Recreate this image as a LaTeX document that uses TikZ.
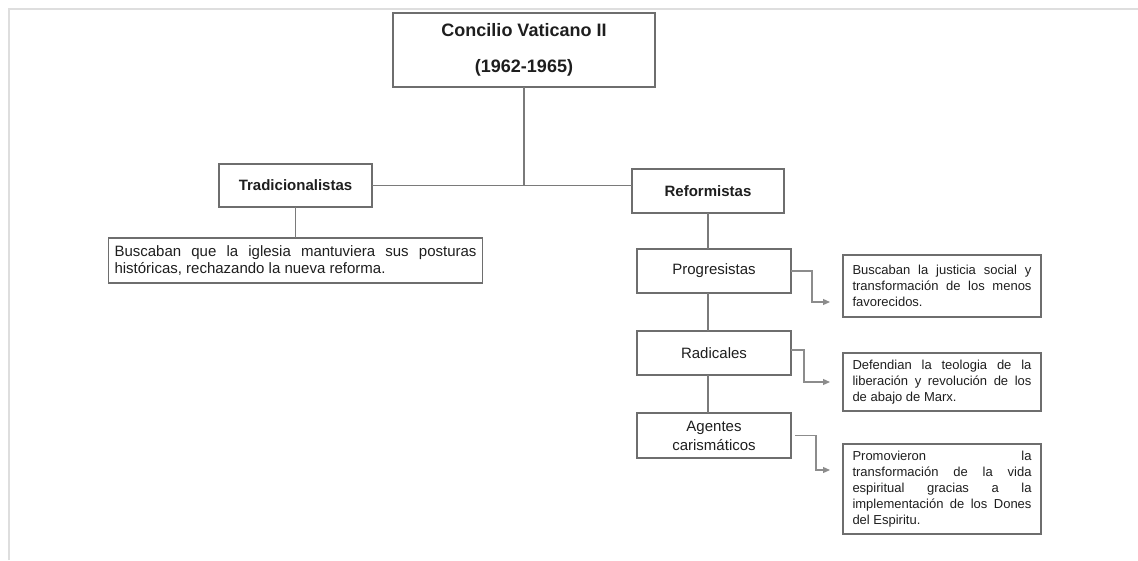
\documentclass[tikz,border=0pt]{standalone}
\usepackage{fontspec}
\setmainfont{Liberation Sans}
\usetikzlibrary{positioning,arrows.meta}
\definecolor{boxgray}{HTML}{6E6E6E}
\definecolor{linegray}{HTML}{7A7A7A}
\definecolor{arrowgray}{HTML}{8C8C8C}
\definecolor{textgray}{HTML}{1E1E1E}
\definecolor{framegray}{HTML}{DEDEDE}
\newcommand\loosejust{\tolerance=10000\relax\hyphenpenalty=10000\relax}

\begin{document}
\begin{tikzpicture}[x=1pt, y=-1pt,
    box/.style={rectangle, draw=boxgray, line width=1.3pt, outer sep=0pt, inner sep=0pt, text=textgray, align=center, minimum width=154pt, minimum height=44pt, font=\fontsize{15}{19}\selectfont},
    descbox/.style={rectangle, draw=boxgray, line width=1.3pt, outer sep=0pt, inner xsep=9.5pt, inner ysep=0pt, text=textgray, align=justify, text width=179pt, minimum width=198pt, font=\fontsize{13}{16}\selectfont\loosejust},
    line/.style={draw=linegray, line width=1.2pt},
    arrow/.style={draw=arrowgray, line width=1.2pt, -{Triangle[length=7pt,width=6pt]}}
]
    \useasboundingbox (0,0) rectangle (1138,560);
    \draw[framegray, line width=1.5pt] (9,560) -- (9,9) -- (1138,9);

    \node[box, minimum width=262pt, minimum height=74pt, font=\bfseries\fontsize{18}{36}\selectfont] (concilio) at (524,50) {Concilio Vaticano II\\(1962-1965)};
    \node[box, minimum width=153pt, minimum height=43pt, font=\bfseries\fontsize{15}{19}\selectfont] (trad) at (295.5,185.5) {Tradicionalistas};
    \node[descbox, below=31pt of trad, text width=362pt, minimum width=374pt, minimum height=45pt, inner xsep=6pt, font=\fontsize{15}{16.7}\selectfont\loosejust] (tradtext) {Buscaban que la iglesia mantuviera sus posturas\linebreak históricas, rechazando la nueva reforma.};

    \node[box, minimum width=152pt, font=\bfseries\fontsize{15}{19}\selectfont] (ref) at (708,191) {Reformistas};
    \node[box, below=36pt of ref, xshift=6pt] (prog) {Progresistas};
    \node[box, below=38pt of prog] (rad) {Radicales};
    \node[box, below=38pt of rad, minimum height=45pt] (agen) {Agentes\\carismáticos};

    \node[descbox, right=52pt of prog, yshift=-15pt, minimum height=62pt] (progtext) {Buscaban la justicia social y\linebreak transformación de los menos\linebreak favorecidos.};
    \node[descbox, right=52pt of rad, yshift=-29pt, minimum height=58pt] (radtext) {Defendian la teologia de la\linebreak liberación y revolución de los\linebreak de abajo de Marx.};
    \node[descbox, right=52pt of agen, yshift=-53.5pt, minimum height=90pt] (agentext) {Promovieron la\linebreak transformación de la vida\linebreak espiritual gracias a la\linebreak implementación de los Dones\linebreak del Espiritu.};

    \draw[line] (concilio.south) -- (concilio.south |- trad.east);
    \draw[line] (trad.east) -- (ref.west |- trad.east);
    \draw[line] (trad.south) -- (tradtext.north);
    \draw[line] (ref.south) -- (ref.south |- prog.north);
    \draw[line] (ref.south |- prog.south) -- (ref.south |- rad.north);
    \draw[line] (ref.south |- rad.south) -- (ref.south |- agen.north);

    \draw[arrow] (prog.east) -- ++(21,0) |- ([xshift=-13pt,yshift=-16pt]progtext.west);
    \draw[arrow] ([yshift=3pt]rad.east) -- ++(13,0) |- ([xshift=-13pt]radtext.west);
    \draw[arrow] ([xshift=4pt]agen.east) -- ++(21,0) |- ([xshift=-13pt,yshift=19pt]agentext.west);
\end{tikzpicture}
\end{document}
